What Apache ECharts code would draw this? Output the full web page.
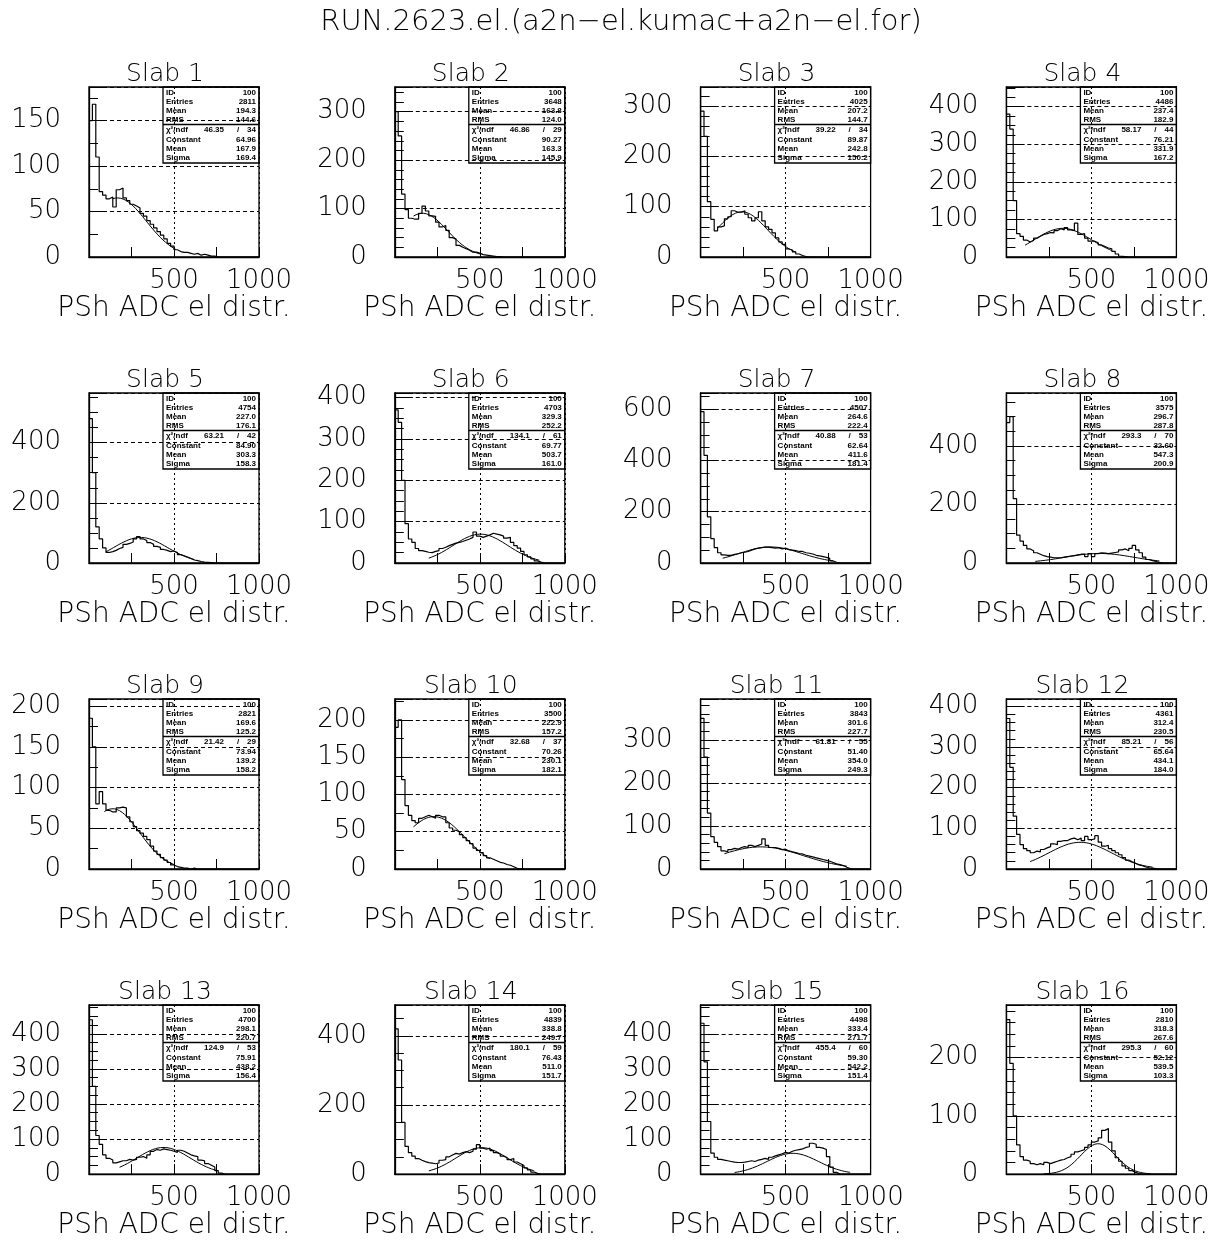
<!DOCTYPE html>
<html><head><meta charset="utf-8">
<script src="https://cdn.jsdelivr.net/npm/echarts@6/dist/echarts.min.js"></script>
<style>html,body{margin:0;padding:0;background:#fff}#c{width:1224px;height:1241px}</style>
</head><body><div id="c"></div>
<script>
// ---------- data ----------
const mainTitle = 'RUN.2623.el.(a2n\u2212el.kumac+a2n\u2212el.for)';
const xName = 'PSh ADC el distr.';
const slabNames = ['Slab 1','Slab 2','Slab 3','Slab 4','Slab 5','Slab 6','Slab 7','Slab 8',
  'Slab 9','Slab 10','Slab 11','Slab 12','Slab 13','Slab 14','Slab 15','Slab 16'];
const BIN = 20;            // bin width (ADC units)
const X_MAX = 1000;
const xTickValues = [500, 1000];

// histogram bin heights, bins of width BIN starting at 0
const h1  = [150,168,110,72,68,64,66,55,74,76,65,62,58,56,54,48,45,40,36,32,28,24,20,15,12,8,6,5,5,4,3,4,2,3,2,1,1];
const h2  = [300,250,130,98,80,78,78,90,105,95,85,84,72,62,65,55,40,37,24,20,17,14,10,10,8,5,4,3,2,1,1];
const h3  = [290,240,110,75,52,60,62,76,80,92,89,89,92,85,78,72,78,90,72,60,55,48,38,30,25,16,14,10,6,3,1];
const h4  = [380,340,150,62,55,45,40,44,50,55,60,62,65,64,70,75,72,78,72,70,90,60,62,50,42,42,38,32,28,24,22,15,8,2,1];
const h5  = [480,300,120,80,50,35,38,42,48,52,62,65,70,80,88,80,75,68,62,55,52,45,42,38,40,35,28,24,20,15,10,8,5,3,2,1];
const h6  = [370,340,200,95,58,50,35,30,28,26,25,28,30,35,38,42,45,48,50,52,55,58,62,75,65,62,65,68,72,70,68,65,60,62,50,42,36,28,20,15,10,5,2];
const h7  = [590,420,180,95,60,40,32,30,30,34,36,40,42,45,50,55,58,60,62,62,60,58,60,55,58,52,50,48,45,45,40,38,35,30,28,25,22,18,8,3];
const h8  = [480,500,220,95,75,60,48,42,35,30,25,22,20,18,18,18,20,22,24,25,28,30,30,22,32,22,32,35,34,32,34,36,38,45,48,42,50,60,45,35,20,12,8,5,2];
const h9  = [185,150,80,95,80,72,70,70,75,76,75,64,58,52,47,44,40,36,28,22,18,14,11,8,5,3,2,1,1,0,1];
const h10 = [190,200,120,85,72,65,62,68,70,72,70,68,72,70,70,62,55,52,50,46,42,38,34,28,25,22,18,15,13,11,9,8,6,5,3,1];
const h11 = [350,260,130,75,62,52,42,40,45,48,46,50,52,50,55,52,55,58,70,55,50,50,48,45,46,42,40,38,36,35,32,30,28,26,24,22,20,18,15,12,10,8,4,1];
const h12 = [370,250,130,85,60,50,45,40,44,42,48,52,55,62,60,68,70,70,74,76,72,76,70,80,72,74,82,66,56,58,50,45,40,35,28,22,18,14,10,8,5,3,2,1];
const h13 = [440,250,110,85,55,45,40,32,35,38,38,42,40,42,48,50,45,55,65,70,68,72,70,68,65,62,68,65,60,55,52,50,40,38,30,25,20,10,3];
const h14 = [420,330,150,80,62,52,45,40,36,33,32,30,32,40,42,50,55,60,58,62,65,62,66,72,85,75,72,75,68,62,58,52,48,42,45,35,30,25,18,12,6,2];
const h15 = [430,320,150,60,48,42,40,38,36,34,33,33,34,36,38,36,40,42,45,42,48,52,55,58,62,60,65,68,70,72,76,78,88,85,76,74,70,50,20,5];
const h16 = [265,190,100,50,30,24,22,18,16,18,16,20,18,20,22,24,25,28,30,34,38,40,42,46,50,55,57,62,75,78,55,40,28,22,14,10,6,3,1];
const hists = [h1,h2,h3,h4,h5,h6,h7,h8,h9,h10,h11,h12,h13,h14,h15,h16];

// y axis range, major step and minor divisions
const yMax   = [187,351,338,452,565,411,663,581,208.6,228,395,418,482,489,482,290];
const yStep  = [50,100,100,100,200,100,200,200,50,50,100,100,100,200,100,100];
const yMinor = [2,5,5,4,4,4,4,4,2,2,5,5,4,4,4,5];

// statistics box
const histId   = [100,100,100,100,100,100,100,100,100,100,100,100,100,100,100,100];
const entries  = [2811,3648,4025,4486,4754,4703,4507,3575,2821,3500,3843,4361,4700,4839,4498,2810];
const histMean = [194.3,163.8,207.2,237.4,227.0,329.3,264.6,296.7,169.6,222.9,301.6,312.4,298.1,338.8,333.4,318.3];
const histRms  = [144.6,124.0,144.7,182.9,176.1,252.2,222.4,287.8,125.2,157.2,227.7,230.5,220.7,249.7,271.7,267.6];
const chi2     = [46.35,46.86,39.22,58.17,63.21,134.1,40.88,293.3,21.42,32.68,61.81,85.21,124.9,180.1,455.4,295.3];
const ndf      = [34,29,34,44,42,61,53,70,29,37,55,56,53,59,60,60];
const fitConst = [64.96,90.27,89.87,76.21,84.90,69.77,62.64,32.60,73.94,70.26,51.40,65.64,75.91,76.43,59.30,52.12];
const fitMean  = [167.9,163.3,242.8,331.9,303.3,503.7,411.6,547.3,139.2,230.1,354.0,434.1,438.2,511.0,542.2,539.5];
const fitSigma = [169.4,145.9,150.2,167.2,158.3,161.0,181.4,200.9,158.2,182.1,249.3,184.0,156.4,151.7,151.4,103.3];
// fitted range of the gaussian
const fitLo = [140,110,100,110,100,200,130,170,90,110,140,140,180,200,200,220];
const fitHi = [510,500,560,620,620,850,780,900,500,560,860,860,760,820,880,850];

// ---------- layout ----------
const FONT = '"DejaVu Sans"';
const GL = [89, 394.8, 700.6, 1006.4];
const GT = [87, 393, 699, 1005];
const GW = 170, GH = 170;

const grids = [], xAxes = [], yAxes = [], series = [], graphics = [];

graphics.push({type:'text', x:621, y:22, silent:true,
  style:{text:mainTitle, font:'200 29px ' + FONT, fill:'#000', textAlign:'center', textVerticalAlign:'middle', align:'center', verticalAlign:'middle'}});

function fmt(v){ return Number(v).toPrecision(4); }

for (let i = 0; i < 16; i++) {
  const r = Math.floor(i / 4), c = i % 4;
  const L = GL[c], T = GT[r];
  grids.push({left:L, top:T, width:GW, height:GH, show:true, borderColor:'#000', borderWidth:1.3, backgroundColor:'transparent', containLabel:false});
  const step = yStep[i];
  xAxes.push({gridIndex:i, type:'value', min:0, max:X_MAX, interval:500,
    axisLine:{show:true, onZero:false, lineStyle:{color:'#000', width:1.3}},
    axisTick:{show:true, inside:true, length:10, lineStyle:{color:'#000', width:1}},
    minorTick:{show:true, splitNumber:2, length:10, lineStyle:{color:'#000', width:1}},
    splitLine:{show:true, lineStyle:{color:'#000', width:1, type:[2,3]}},
    axisLabel:{color:'#000', fontSize:26, fontFamily:'DejaVu Sans', fontWeight:200, margin:11,
      formatter: v => (xTickValues.indexOf(v) >= 0 ? String(v) : '')},
    name:xName, nameLocation:'middle', nameGap:36,
    nameTextStyle:{color:'#000', fontSize:28, fontFamily:'DejaVu Sans', fontWeight:200}});
  yAxes.push({gridIndex:i, type:'value', min:0, max:yMax[i], interval:step,
    axisLine:{show:true, onZero:false, lineStyle:{color:'#000', width:1.3}},
    axisTick:{show:true, inside:true, length:18, lineStyle:{color:'#000', width:1}},
    minorTick:{show:true, splitNumber:yMinor[i], length:9, lineStyle:{color:'#000', width:1}},
    splitLine:{show:true, lineStyle:{color:'#000', width:1, type:[4,3]}},
    axisLabel:{color:'#000', fontSize:26, fontFamily:'DejaVu Sans', fontWeight:200, margin:28,
      formatter: v => (Math.abs(v / step - Math.round(v / step)) < 1e-6 ? String(v) : '')}});

  // histogram outline
  const h = hists[i];
  const nb = X_MAX / BIN;
  const pts = [];
  for (let b = 0; b < nb; b++) pts.push([b * BIN, b < h.length ? h[b] : 0]);
  pts.push([X_MAX, 0]);
  series.push({type:'line', xAxisIndex:i, yAxisIndex:i, data:pts, step:'end', symbol:'none', silent:true,
    lineStyle:{color:'#000', width:1.2}, animation:false, z:3});

  // gaussian fit drawn from its fitted parameters over the fit range
  const g = [];
  for (let x = fitLo[i]; x <= fitHi[i] + 1e-9; x += 5) {
    const t = (x - fitMean[i]) / fitSigma[i];
    g.push([x, fitConst[i] * Math.exp(-0.5 * t * t)]);
  }
  series.push({type:'line', xAxisIndex:i, yAxisIndex:i, data:g, symbol:'none', silent:true,
    lineStyle:{color:'#000', width:1}, animation:false, z:4});

  // panel title
  graphics.push({type:'text', x:L + GW / 2 - 9, y:T - 13, silent:true,
    style:{text:slabNames[i], font:'200 25px ' + FONT, fill:'#000', textAlign:'center', textVerticalAlign:'middle', align:'center', verticalAlign:'middle'}});

  // statistics box
  const bx = L + 74, bw = GW - 74, by = T, bh = 76, div = 37.5;
  graphics.push({type:'rect', silent:true, shape:{x:bx, y:by, width:bw, height:bh},
    style:{fill:'none', stroke:'#000', lineWidth:1.3}, z:10});
  graphics.push({type:'line', silent:true, shape:{x1:bx, y1:by + div, x2:bx + bw, y2:by + div},
    style:{stroke:'#000', lineWidth:1.3}, z:10});
  const sf = 'bold 8px "Liberation Sans"';
  const txt = (s, x, y, al) => graphics.push({type:'text', silent:true, x:x, y:y, z:11,
    style:{text:s, font:sf, fill:'#000', textAlign:al, align:al, textVerticalAlign:'middle', verticalAlign:'middle'}});
  const topRows = [['ID', String(histId[i])], ['Entries', String(entries[i])], ['Mean', fmt(histMean[i])], ['RMS', fmt(histRms[i])]];
  topRows.forEach((rw, k) => { const y = by + 5.5 + 9.2 * k; txt(rw[0], bx + 3, y, 'left'); txt(rw[1], bx + bw - 3, y, 'right'); });
  const y0 = by + 43;
  txt('\u03c7\u00b2/ndf', bx + 3, y0, 'left');
  txt(fmt(chi2[i]), bx + 61, y0, 'right');
  txt('/', bx + 75, y0, 'center');
  txt(String(ndf[i]), bx + bw - 3, y0, 'right');
  const botRows = [['Constant', fmt(fitConst[i])], ['Mean', fmt(fitMean[i])], ['Sigma', fmt(fitSigma[i])]];
  botRows.forEach((rw, k) => { const y = y0 + 9.3 * (k + 1); txt(rw[0], bx + 3, y, 'left'); txt(rw[1], bx + bw - 3, y, 'right'); });
}

const chart = echarts.init(document.getElementById('c'), null, {renderer:'canvas'});
chart.setOption({backgroundColor:'#fff', animation:false, grid:grids, xAxis:xAxes, yAxis:yAxes, series:series, graphic:graphics});
</script></body></html>
